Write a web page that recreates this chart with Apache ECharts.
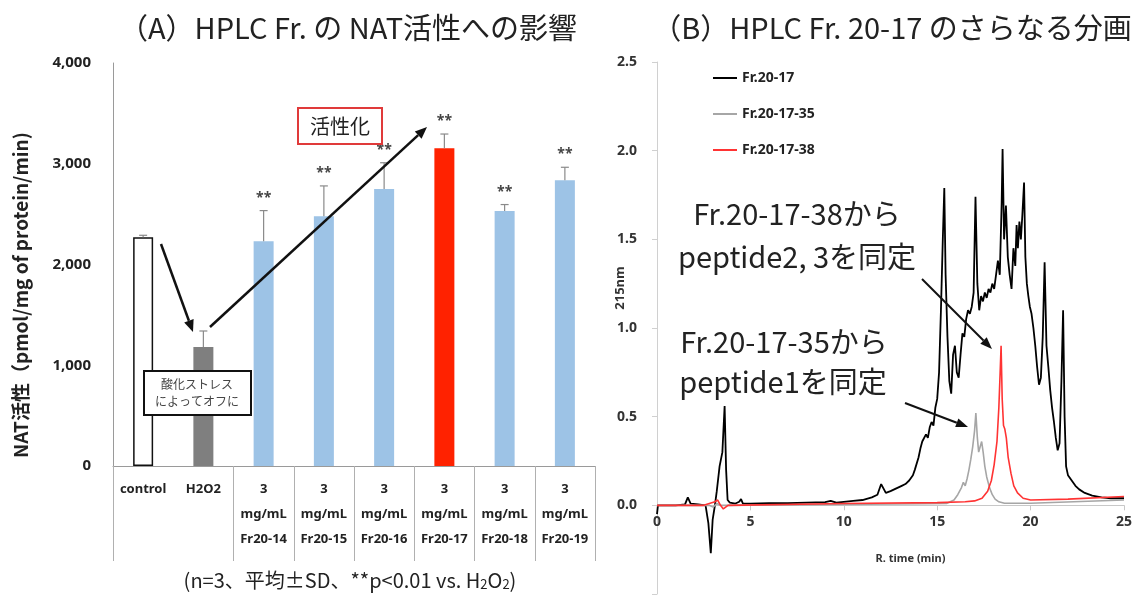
<!DOCTYPE html>
<html>
<head>
<meta charset="utf-8">
<script src="https://cdn.jsdelivr.net/npm/echarts@6/dist/echarts.min.js"></script>
<style>
html,body{margin:0;padding:0;background:#fff;}
#c{width:1137px;height:599px;}
</style>
</head>
<body>
<div id="c"></div>
<script>
// ---------- Panel A data ----------
const categories = ['control', 'H2O2', '3\nmg/mL\nFr20-14', '3\nmg/mL\nFr20-15', '3\nmg/mL\nFr20-16', '3\nmg/mL\nFr20-17', '3\nmg/mL\nFr20-18', '3\nmg/mL\nFr20-19'];
const natValues = [2270, 1180, 2230, 2480, 2750, 3155, 2530, 2835];
const natSD = [20, 160, 305, 300, 260, 140, 65, 130];
const natSig = ['', '', '**', '**', '**', '**', '**', '**'];
const yTicksA = [0, 1000, 2000, 3000, 4000];

// ---------- Panel B data (R. time min, absorbance 215nm) ----------
const fr2017T = [0, 0.05, 0.5, 1.0, 1.5, 1.65, 1.8, 2.2, 2.6, 2.75, 2.88, 2.98, 3.1, 3.2, 3.35, 3.5, 3.62, 3.7, 3.78, 3.9, 4.2, 4.4, 4.5, 4.6, 5.0, 6, 7, 8, 9, 9.3, 9.6, 10, 10.5, 11, 11.5, 11.8, 12.0, 12.1, 12.25, 12.5, 12.7, 12.9, 13.1, 13.3, 13.5, 13.7, 13.8, 13.9, 14.0, 14.1, 14.2, 14.3, 14.4, 14.5, 14.6, 14.7, 14.8, 14.9, 15.0, 15.1, 15.2, 15.3, 15.38, 15.45, 15.55, 15.65, 15.75, 15.85, 15.95, 16.05, 16.15, 16.25, 16.35, 16.45, 16.55, 16.65, 16.75, 16.85, 16.95, 17.05, 17.15, 17.25, 17.35, 17.45, 17.55, 17.65, 17.75, 17.85, 17.95, 18.05, 18.15, 18.25, 18.35, 18.45, 18.5, 18.58, 18.68, 18.78, 18.88, 18.98, 19.08, 19.18, 19.25, 19.32, 19.4, 19.48, 19.56, 19.65, 19.72, 19.8, 19.88, 19.96, 20.05, 20.15, 20.25, 20.35, 20.45, 20.55, 20.65, 20.75, 20.85, 20.95, 21.05, 21.15, 21.25, 21.35, 21.45, 21.55, 21.65, 21.74, 21.82, 21.9, 22.0, 22.2, 22.4, 22.6, 22.9, 23.3, 23.8, 24.3, 25];
const fr2017V = [-0.05, 0.0, 0.0, 0.0, 0.005, 0.045, 0.01, 0.005, 0.0, -0.1, -0.27, -0.08, 0.0, 0.08, 0.22, 0.3, 0.56, 0.2, 0.03, 0.015, 0.01, 0.02, 0.035, 0.01, 0.01, 0.012, 0.012, 0.015, 0.018, 0.025, 0.015, 0.02, 0.025, 0.03, 0.045, 0.06, 0.12, 0.13, 0.07, 0.08, 0.09, 0.1, 0.11, 0.12, 0.14, 0.17, 0.2, 0.19, 0.27, 0.32, 0.36, 0.35, 0.4, 0.38, 0.44, 0.47, 0.45, 0.55, 0.6, 0.75, 1.1, 1.5, 1.79, 1.3, 0.95, 0.7, 0.63, 0.85, 0.9, 0.75, 0.72, 0.85, 0.97, 0.95, 1.05, 1.1, 1.08, 1.12, 1.2, 1.74, 1.25, 1.1, 1.18, 1.15, 1.2, 1.17, 1.22, 1.2, 1.25, 1.22, 1.3, 1.38, 1.3, 1.7, 2.01, 1.5, 1.69, 1.4, 1.3, 1.22, 1.45, 1.35, 1.58, 1.45, 1.6, 1.5, 1.64, 1.82, 1.4, 1.25, 1.18, 1.12, 1.08, 1.0, 0.9, 0.78, 0.68, 0.72, 0.95, 1.37, 0.9, 0.78, 0.65, 0.55, 0.47, 0.38, 0.31, 0.35, 0.7, 1.1, 0.5, 0.22, 0.17, 0.14, 0.11, 0.09, 0.07, 0.055, 0.045, 0.04, 0.04];

const fr201735T = [0, 2.8, 3.0, 3.2, 3.4, 10, 15.5, 15.9, 16.1, 16.3, 16.4, 16.5, 16.6, 16.7, 16.8, 16.9, 17.0, 17.07, 17.15, 17.22, 17.3, 17.38, 17.46, 17.55, 17.65, 17.8, 17.95, 18.1, 18.3, 18.6, 20, 25];
const fr201735V = [0, 0.0, -0.01, 0.01, 0.0, 0.005, 0.01, 0.03, 0.06, 0.1, 0.13, 0.11, 0.15, 0.2, 0.26, 0.33, 0.42, 0.52, 0.38, 0.3, 0.33, 0.36, 0.3, 0.22, 0.16, 0.1, 0.06, 0.035, 0.02, 0.012, 0.012, 0.03];

const fr201738T = [0, 2.5, 3.1, 3.25, 3.4, 3.55, 3.8, 10, 15, 16.5, 17.0, 17.4, 17.7, 17.9, 18.05, 18.2, 18.3, 18.37, 18.42, 18.48, 18.55, 18.62, 18.7, 18.8, 18.95, 19.1, 19.3, 19.6, 20, 22, 25];
const fr201738V = [0, 0.0, 0.02, 0.03, 0.0, -0.02, 0.0, 0.01, 0.015, 0.02, 0.025, 0.04, 0.08, 0.14, 0.23, 0.36, 0.55, 0.75, 0.9, 0.6, 0.45, 0.43, 0.38, 0.27, 0.18, 0.11, 0.07, 0.04, 0.03, 0.035, 0.05];

const seriesNamesB = ['Fr.20-17', 'Fr.20-17-35', 'Fr.20-17-38'];
const yTicksB = [-0.5, 0, 0.5, 1.0, 1.5, 2.0, 2.5];
const xTicksB = [0, 5, 10, 15, 20, 25];

// ---------- helpers ----------
const zip = (a, b) => a.map((t, i) => [t, b[i]]);
const JP = '"Noto Sans CJK JP", "Noto Sans", sans-serif';
const LAT = '"Noto Sans", "Open Sans", sans-serif';

function arrow(x1, y1, x2, y2, w, hl, hw, color) {
  const ang = Math.atan2(y2 - y1, x2 - x1);
  const bx = x2 - hl * Math.cos(ang), by = y2 - hl * Math.sin(ang);
  const px = -Math.sin(ang) * hw / 2, py = Math.cos(ang) * hw / 2;
  return [
    { type: 'line', shape: { x1: x1, y1: y1, x2: bx, y2: by }, style: { stroke: color, lineWidth: w }, z: 100 },
    { type: 'polygon', shape: { points: [[x2, y2], [bx + px, by + py], [bx - px, by - py]] }, style: { fill: color }, z: 100 }
  ];
}

const barColors = ['#ffffff', '#7f7f7f', '#9dc3e6', '#9dc3e6', '#9dc3e6', '#ff2200', '#9dc3e6', '#9dc3e6'];
const lineColorsB = ['#000000', '#a6a6a6', '#ff3333'];

const chart = echarts.init(document.getElementById('c'), null, { renderer: 'canvas' });

const option = {
  animation: false,
  backgroundColor: '#ffffff',
  textStyle: { fontFamily: LAT },
  grid: [
    { left: 113, right: 542, top: 63, bottom: 133, containLabel: false, outerBoundsMode: 'none' },
    { left: 657, right: 13, top: 62, bottom: 5, containLabel: false, outerBoundsMode: 'none' }
  ],
  legend: {
    data: seriesNamesB,
    orient: 'vertical',
    left: 708,
    top: 65,
    icon: 'rect',
    itemWidth: 24,
    itemHeight: 2,
    itemGap: 20,
    textStyle: { fontFamily: LAT, fontWeight: 'bold', fontSize: 14, color: '#222', lineHeight: 16 }
  },
  xAxis: [
    {
      type: 'category', gridIndex: 0, data: categories,
      axisLine: { lineStyle: { color: '#9a9a9a', width: 1 } },
      axisTick: { show: true, length: 95, interval: function (i) { return i !== 1; }, lineStyle: { color: '#b0b0b0' } },
      axisLabel: { interval: 0, margin: 11, fontSize: 13, fontWeight: 'bold', color: '#222', lineHeight: 25, verticalAlign: 'top', fontFamily: LAT }
    },
    {
      type: 'value', gridIndex: 1, min: xTicksB[0], max: xTicksB[xTicksB.length - 1], interval: 5,
      position: 'bottom', offset: 0,
      axisLine: { onZero: false, lineStyle: { color: '#c8c8c8' } },
      axisTick: { show: true, length: 5, lineStyle: { color: '#c8c8c8' } },
      axisLabel: { fontSize: 14, fontWeight: 'bold', color: '#333', margin: 10 },
      splitLine: { show: false },
      name: 'R. time (min)', nameLocation: 'middle', nameGap: 48,
      nameTextStyle: { fontSize: 11, fontWeight: 'bold', color: '#333', padding: [0, 0, 0, 40] }
    }
  ],
  yAxis: [
    {
      type: 'value', gridIndex: 0, min: yTicksA[0], max: yTicksA[yTicksA.length - 1], interval: 1000,
      axisLine: { show: true, lineStyle: { color: '#9a9a9a' } },
      axisTick: { show: false },
      axisLabel: { fontSize: 15, fontWeight: 'bold', color: '#222', margin: 22 },
      splitLine: { show: false }
    },
    {
      type: 'value', gridIndex: 1, min: yTicksB[0], max: yTicksB[yTicksB.length - 1], interval: 0.5,
      axisLine: { show: true, onZero: false, lineStyle: { color: '#d0d0d0' } },
      axisTick: { show: true, length: 5, lineStyle: { color: '#d0d0d0' } },
      axisLabel: { fontSize: 14, fontWeight: 'bold', color: '#333', margin: 20,
        formatter: function (v) { return v < 0 ? '' : v.toFixed(1); } },
      splitLine: { show: false }
    }
  ],
  series: [
    {
      type: 'bar', xAxisIndex: 0, yAxisIndex: 0, barWidth: 20,
      data: natValues.map((v, i) => ({
        value: v,
        itemStyle: { color: barColors[i], borderColor: i === 0 ? '#111' : barColors[i], borderWidth: i === 0 ? 1.5 : 0 }
      }))
    },
    {
      type: 'custom', xAxisIndex: 0, yAxisIndex: 0, z: 5,
      data: natValues.map((v, i) => [i, v, natSD[i]]),
      renderItem: function (params, api) {
        const i = api.value(0), v = api.value(1), sd = api.value(2);
        const p0 = api.coord([i, v]);
        const p1 = api.coord([i, v + sd]);
        const children = [
          { type: 'line', shape: { x1: p0[0], y1: p0[1], x2: p1[0], y2: p1[1] }, style: { stroke: '#8a8a8a', lineWidth: 1.2 } },
          { type: 'line', shape: { x1: p1[0] - 4, y1: p1[1], x2: p1[0] + 4, y2: p1[1] }, style: { stroke: '#8a8a8a', lineWidth: 1.2 } }
        ];
        const s = natSig[params.dataIndex];
        if (s) {
          children.push({ type: 'text', style: { text: s, x: p1[0], y: p1[1] - 13, textAlign: 'center', textVerticalAlign: 'middle', font: 'bold 14px "Noto Sans", sans-serif', fill: '#444' } });
        }
        return { type: 'group', children: children };
      }
    },
    {
      name: seriesNamesB[0], type: 'line', xAxisIndex: 1, yAxisIndex: 1, symbol: 'none',
      data: zip(fr2017T, fr2017V), lineStyle: { color: lineColorsB[0], width: 1.8 }, itemStyle: { color: lineColorsB[0] }
    },
    {
      name: seriesNamesB[1], type: 'line', xAxisIndex: 1, yAxisIndex: 1, symbol: 'none',
      data: zip(fr201735T, fr201735V), lineStyle: { color: lineColorsB[1], width: 1.6 }, itemStyle: { color: lineColorsB[1] }
    },
    {
      name: seriesNamesB[2], type: 'line', xAxisIndex: 1, yAxisIndex: 1, symbol: 'none',
      data: zip(fr201738T, fr201738V), lineStyle: { color: lineColorsB[2], width: 1.6 }, itemStyle: { color: lineColorsB[2] }
    }
  ],
  graphic: [].concat(
    [
      { type: 'text', x: 348, y: 28, style: { text: '（A）HPLC Fr. の NAT活性への影響', font: '29px ' + JP, fill: '#222', textAlign: 'center', textVerticalAlign: 'middle' } },
      { type: 'text', x: 892, y: 28, style: { text: '（B）HPLC Fr. 20-17 のさらなる分画', font: '29px ' + JP, fill: '#222', textAlign: 'center', textVerticalAlign: 'middle' } },
      { type: 'text', x: 21, y: 295, rotation: Math.PI / 2, style: { text: 'NAT活性（pmol/mg of protein/min)', font: 'bold 19px ' + JP, fill: '#222', textAlign: 'center', textVerticalAlign: 'middle' } },
      { type: 'text', x: 620, y: 288, rotation: Math.PI / 2, style: { text: '215nm', font: 'bold 13px ' + LAT, fill: '#333', textAlign: 'center', textVerticalAlign: 'middle' } },
      { type: 'text', x: 350, y: 580, style: {
          text: '(n=3、平均±SD、**p<0.01 vs. H{s|2}O{s|2})', font: '20px ' + JP, fill: '#222', textAlign: 'center', textVerticalAlign: 'middle',
          rich: { s: { fontSize: 13, fontFamily: 'Noto Sans CJK JP', padding: [9, 0, 0, 0], fill: '#222' } } } },
      // 活性化 box
      { type: 'rect', shape: { x: 298, y: 108, width: 84, height: 36 }, style: { fill: '#fff', stroke: '#e03a3a', lineWidth: 2 }, z: 99 },
      { type: 'text', x: 340, y: 126, z: 101, style: { text: '活性化', font: '20px ' + JP, fill: '#222', textAlign: 'center', textVerticalAlign: 'middle' } },
      // 酸化ストレス box
      { type: 'rect', shape: { x: 144, y: 371, width: 107, height: 44 }, style: { fill: '#fff', stroke: '#111', lineWidth: 2 }, z: 99 },
      { type: 'text', x: 197, y: 393, z: 101, style: { text: '酸化ストレス\nによってオフに', font: '12px ' + JP, lineHeight: 17, fill: '#444', textAlign: 'center', textVerticalAlign: 'middle' } },
      // panel B annotations
      { type: 'text', x: 797, y: 214, style: { text: 'Fr.20-17-38から', font: '29px ' + JP, fill: '#222', textAlign: 'center', textVerticalAlign: 'middle' } },
      { type: 'text', x: 797, y: 257, style: { text: 'peptide2, 3を同定', font: '29px ' + JP, fill: '#222', textAlign: 'center', textVerticalAlign: 'middle' } },
      { type: 'text', x: 784, y: 342, style: { text: 'Fr.20-17-35から', font: '29px ' + JP, fill: '#222', textAlign: 'center', textVerticalAlign: 'middle' } },
      { type: 'text', x: 783, y: 382, style: { text: 'peptide1を同定', font: '29px ' + JP, fill: '#222', textAlign: 'center', textVerticalAlign: 'middle' } }
    ],
    arrow(161, 244, 193, 332, 2.5, 12, 10, '#111'),
    arrow(210, 327, 427, 127, 2.5, 12, 10, '#111'),
    arrow(922, 279, 992, 349, 2, 12, 9, '#111'),
    arrow(905, 403, 968, 427, 2, 12, 9, '#111')
  )
};
chart.setOption(option);

// Move the R. time axis up onto the zero line of the 215nm scale (computed from the axis scale itself)
const zeroPx = chart.convertToPixel({ yAxisIndex: 1 }, 0);
const bottomPx = chart.convertToPixel({ yAxisIndex: 1 }, yTicksB[0]);
chart.setOption({ xAxis: [{}, { offset: zeroPx - bottomPx }] });
</script>
</body>
</html>
